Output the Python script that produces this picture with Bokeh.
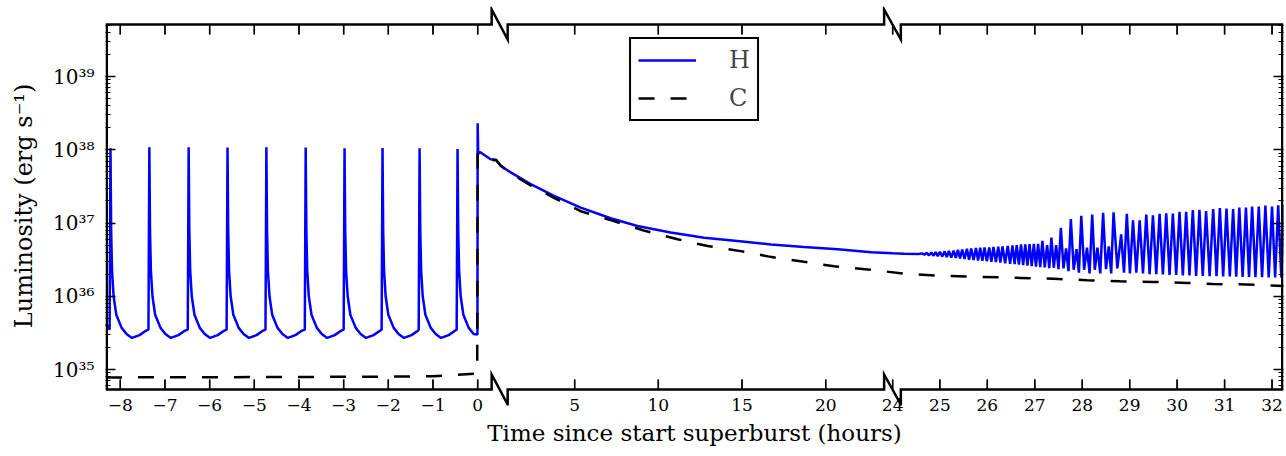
from bokeh.plotting import figure
from bokeh.models import (Range1d, FixedTicker, CustomJSTickFormatter, LinearAxis, LogAxis,
                          Arrow, ColumnDataSource)
from bokeh.embed import file_html
from bokeh.resources import INLINE

# ---------------- data (hours, erg/s) ----------------
tick_hours = [-8, -7, -6, -5, -4, -3, -2, -1, 0, 5, 10, 15, 20, 24, 25, 26, 27, 28, 29, 30, 31, 32]
tick_labels = ["−8", "−7", "−6", "−5", "−4", "−3", "−2", "−1", "0", "5", "10", "15", "20",
               "24", "25", "26", "27", "28", "29", "30", "31", "32"]

# H: recurring H/He bursts before the superburst
h_start_t = [-8.32]
h_start_L = [4.2e35]
burst_peak_t = [-8.22, -7.35, -6.47, -5.60, -4.73, -3.85, -2.98, -2.13, -1.30, -0.45]
burst_peak_L = [1.05e38, 1.08e38, 1.08e38, 1.07e38, 1.08e38, 1.07e38, 1.05e38, 1.06e38, 1.05e38, 1.02e38]
# burst profile read relative to each peak (offset in hours, luminosity)
burst_dt = [-0.02, 0.0, 0.015, 0.035, 0.07, 0.13, 0.25, 0.36, 0.48, 0.65, 0.80]
burst_shape_L = [3.5e35, None, 8.0e36, 2.2e36, 1.0e36, 5.6e35, 3.7e35, 3.05e35, 2.7e35, 2.95e35, 3.4e35]

# H: superburst onset and decay
sb_t = [-0.005, 0.0, 0.012, 0.05, 0.29]
sb_L = [3.0e35, 2.3e38, 8.8e37, 9.3e37, 7.4e37]
decay_t = [0.31, 0.6, 1.18, 2.37, 3.77, 5.36, 7.15, 8.75, 10.74, 12.74, 14.73, 16.73, 18.7,
           20.72, 22.72, 24.0, 24.25, 24.55]
decay_L = [7.3e37, 6.0e37, 4.9e37, 3.4e37, 2.34e37, 1.62e37, 1.16e37, 9.1e36, 7.4e36, 6.3e36,
           5.7e36, 5.1e36, 4.7e36, 4.37e36, 4.0e36, 3.85e36, 3.8e36, 3.77e36]

# H: oscillations after the superburst (peaks and troughs)
osc_peak_t = [24.63, 24.72, 24.82, 24.91, 25.00, 25.10, 25.19, 25.29, 25.38, 25.47,
              25.57, 25.66, 25.76, 25.85, 25.94, 26.04, 26.13, 26.23, 26.32, 26.43,
              26.53, 26.62, 26.71, 26.80, 26.89, 26.98,
              27.07, 27.16, 27.26, 27.35, 27.45, 27.55, 27.66, 27.76, 27.88, 27.98,
              28.10, 28.21, 28.32, 28.44, 28.56, 28.66, 28.82, 28.94,
              29.07, 29.21, 29.35, 29.49, 29.63, 29.77, 29.91,
              30.05, 30.19, 30.33, 30.47, 30.61, 30.76, 30.90,
              31.04, 31.18, 31.31, 31.45, 31.58, 31.72, 31.86,
              32.00, 32.13, 32.26]
osc_peak_L = [3.85e36, 3.9e36, 3.95e36, 4.0e36, 4.05e36, 4.1e36, 4.15e36, 4.2e36, 4.3e36, 4.35e36,
              4.45e36, 4.5e36, 4.55e36, 4.6e36, 4.62e36, 4.65e36, 4.7e36, 4.75e36, 4.8e36, 4.85e36,
              4.95e36, 5.0e36, 5.1e36, 5.1e36, 5.15e36, 5.2e36,
              5.2e36, 5.7e36, 5.0e36, 6.3e36, 5.0e36, 8.6e36, 4.5e36, 1.13e37, 4.4e36, 1.25e37,
              4.6e36, 1.30e37, 4.6e36, 1.38e37, 4.8e36, 1.40e37, 7.0e36, 1.33e37,
              1.09e37, 1.09e37, 1.30e37, 1.27e37, 1.33e37, 1.36e37, 1.35e37,
              1.42e37, 1.42e37, 1.50e37, 1.51e37, 1.46e37, 1.55e37, 1.60e37,
              1.58e37, 1.55e37, 1.63e37, 1.63e37, 1.68e37, 1.68e37, 1.73e37,
              1.68e37, 1.75e37, 1.77e37]
osc_trough_t = [24.675, 24.77, 24.865, 24.955, 25.05, 25.145, 25.24, 25.335, 25.425, 25.52,
                25.615, 25.71, 25.805, 25.895, 25.99, 26.085, 26.18, 26.275, 26.375, 26.48,
                26.575, 26.665, 26.755, 26.845, 26.935, 27.025, 27.115, 27.21, 27.305, 27.40,
                27.50, 27.605, 27.71, 27.82, 27.93, 28.04, 28.155, 28.265, 28.38, 28.50,
                28.61, 28.74, 28.88, 29.005, 29.14, 29.28, 29.42, 29.56, 29.70, 29.84,
                29.98, 30.12, 30.26, 30.40, 30.54, 30.685, 30.83, 30.97, 31.11, 31.245,
                31.38, 31.515, 31.65, 31.79, 31.93, 32.065, 32.195]
osc_trough_L = [3.68e36, 3.63e36, 3.58e36, 3.53e36, 3.48e36, 3.43e36, 3.38e36, 3.33e36, 3.28e36, 3.22e36,
                3.16e36, 3.12e36, 3.08e36, 3.04e36, 3.0e36, 2.96e36, 2.92e36, 2.88e36, 2.82e36, 2.78e36,
                2.74e36, 2.7e36, 2.66e36, 2.62e36, 2.58e36, 2.54e36, 2.5e36, 2.48e36, 2.42e36, 2.45e36,
                2.35e36, 2.4e36, 2.2e36, 2.3e36, 2.1e36, 2.3e36, 2.05e36, 2.3e36, 2.05e36, 2.35e36,
                2.05e36, 2.4e36, 2.1e36, 2.05e36, 2.1e36, 2.05e36, 2.0e36, 2.0e36, 1.98e36, 1.95e36,
                1.95e36, 1.92e36, 1.92e36, 1.9e36, 1.9e36, 1.88e36, 1.88e36, 1.86e36, 1.86e36, 1.85e36,
                1.84e36, 1.83e36, 1.82e36, 1.82e36, 1.8e36, 1.8e36, 1.8e36]

# C: carbon burning luminosity
c_t = [-8.32, -6.0, -4.0, -2.0, -1.0, -0.5, -0.01, 0.0, 0.05, 0.29, 0.31, 0.6, 1.18, 2.37, 3.77,
       5.36, 7.34, 9.13, 11.15, 12.95, 14.92, 16.7, 18.7, 20.5, 22.5, 24.25, 25.0, 26.7, 27.4,
       28.1, 28.8, 29.5, 30.2, 30.75, 31.45, 32.25]
c_L = [7.8e34, 7.85e34, 7.9e34, 8.0e34, 8.1e34, 8.4e34, 8.8e34, 8.9e37, 9.0e37, 7.3e37, 7.2e37,
       6.0e37, 4.75e37, 3.25e37, 2.2e37, 1.45e37, 1.06e37, 7.9e36, 6.0e36, 4.84e36, 4.13e36,
       3.45e36, 2.95e36, 2.57e36, 2.32e36, 2.04e36, 1.9e36, 1.78e36, 1.73e36, 1.66e36, 1.6e36,
       1.57e36, 1.52e36, 1.47e36, 1.45e36, 1.38e36]

# ---------------- broken time axis: three linear pieces ----------------
SEG1_END = 0.3
SEG2_END = 24.0


def hours_to_u(t):
    if t <= SEG1_END:
        return 477.0 + 44.65 * t
    if t <= SEG2_END:
        return 490.3 + 16.73 * t
    return 891.6 + 47.43 * (t - 24.0)


# assemble H series
h_t = list(h_start_t)
h_L = list(h_start_L)
for tp, Lp in zip(burst_peak_t, burst_peak_L):
    for dt, L in zip(burst_dt, burst_shape_L):
        t = tp + dt
        if t >= sb_t[0]:
            continue
        h_t.append(t)
        h_L.append(Lp if L is None else L)
h_t += sb_t + decay_t
h_L += sb_L + decay_L
osc = sorted(zip(osc_peak_t + osc_trough_t, osc_peak_L + osc_trough_L))
h_t += [a for a, _ in osc]
h_L += [b for _, b in osc]

h_u = [hours_to_u(t) for t in h_t]
c_u = [hours_to_u(t) for t in c_t]
tick_u = [hours_to_u(t) for t in tick_hours]

# ---------------- figure ----------------
W, H = 1286, 456
BOX_TOP, BOX_BOTTOM = 24, 389          # visible axes box (px)
EXT_T, EXT_B = 18, 16                  # frame extends beyond the box for the break marks
B_LEFT, B_RIGHT = 105, 3
B_TOP, B_BOTTOM = BOX_TOP - EXT_T, H - BOX_BOTTOM - EXT_B
LOG_LO, LOG_HI = 34.727, 39.71
DPP = (LOG_HI - LOG_LO) / (BOX_BOTTOM - BOX_TOP)   # decades per pixel
U_LO, U_HI = 105.0, 1282.5
FONT = "DejaVu Serif"

p = figure(width=W, height=H, output_backend="svg", toolbar_location=None,
           x_range=Range1d(U_LO, U_HI),
           y_range=Range1d(10 ** (LOG_LO - EXT_B * DPP), 10 ** (LOG_HI + EXT_T * DPP)),
           y_axis_type="log", min_border_left=B_LEFT, min_border_right=B_RIGHT,
           min_border_top=B_TOP, min_border_bottom=B_BOTTOM)
p.outline_line_color = None
p.xgrid.visible = False
p.ygrid.visible = False
p.background_fill_color = "white"
p.border_fill_color = "white"

xt = FixedTicker(ticks=tick_u, minor_ticks=[])
yt = FixedTicker(ticks=[10.0 ** n for n in range(35, 40)],
                 minor_ticks=[k * 10.0 ** n for n in range(34, 40) for k in range(2, 10)
                              if 10 ** LOG_LO < k * 10.0 ** n < 10 ** LOG_HI])

xfmt = CustomJSTickFormatter(args=dict(pos=tick_u, lab=tick_labels), code="""
for (let i = 0; i < pos.length; i++) { if (Math.abs(pos[i] - tick) < 1e-6) return lab[i]; }
return "";
""")
yfmt = CustomJSTickFormatter(code="""
const sup = {"0":"⁰","1":"¹","2":"²","3":"³","4":"⁴","5":"⁵","6":"⁶","7":"⁷","8":"⁸","9":"⁹","-":"⁻"};
const n = Math.round(Math.log10(tick));
return "10" + String(n).split("").map(c => sup[c]).join("");
""")
blank = CustomJSTickFormatter(code="return '';")


def style_axis(ax, horizontal):
    ax.axis_line_color = None
    if horizontal:
        ax.major_tick_in = 0
        ax.major_tick_out = 0
        ax.major_tick_line_color = None
    else:
        ax.major_tick_in = 10
        ax.major_tick_out = 0
        ax.major_tick_line_width = 1.3
    ax.minor_tick_in = 5
    ax.minor_tick_out = 0
    ax.minor_tick_line_width = 1.1
    ax.major_label_text_font = FONT
    ax.major_label_text_color = "black"
    ax.axis_label_text_font = FONT
    ax.axis_label_text_font_size = "23px"
    ax.axis_label_text_font_style = "normal"
    ax.axis_label_text_color = "black"


bx = p.xaxis[0]
bx.ticker = xt
bx.formatter = xfmt
style_axis(bx, True)
bx.major_label_text_font_size = "17px"
bx.major_label_standoff = 9 - EXT_B
bx.axis_label = "Time since start superburst (hours)"
bx.axis_label_standoff = 6

ly = p.yaxis[0]
ly.ticker = yt
ly.formatter = yfmt
style_axis(ly, False)
ly.major_label_text_font_size = "20px"
ly.major_label_standoff = 11
ly.axis_label = "Luminosity (erg s⁻¹)"
ly.axis_label_text_font_size = "24px"
ly.axis_label_standoff = 12

tx = LinearAxis(ticker=xt, formatter=blank)
style_axis(tx, True)
tx.major_label_standoff = 0
tx.major_label_text_font_size = "0px"
p.add_layout(tx, "above")

ry = LogAxis(ticker=yt, formatter=blank)
style_axis(ry, False)
ry.major_label_standoff = 0
ry.major_label_text_font_size = "0px"
p.add_layout(ry, "right")

p.line(h_u, h_L, line_color="#0000ff", line_width=2.5, legend_label="H")
p.line(c_u, c_L, line_color="black", line_width=2.5, line_dash="16 16", legend_label="C")

# inward ticks of the time axis on the visible box (top and bottom)
TICK_LEN = 10 * DPP
n_t = len(tick_u)
tick_left = [u - 0.7 for u in tick_u]
tick_right = [u + 0.7 for u in tick_u]
p.quad(left=tick_left, right=tick_right,
       bottom=[10 ** (LOG_HI - TICK_LEN)] * n_t, top=[10 ** LOG_HI] * n_t,
       fill_color="black", line_color=None)
p.quad(left=tick_left, right=tick_right,
       bottom=[10 ** LOG_LO] * n_t, top=[10 ** (LOG_LO + TICK_LEN)] * n_t,
       fill_color="black", line_color=None)
tick_src = ColumnDataSource(dict(
    x0=list(tick_u) + list(tick_u),
    y0=[10 ** LOG_HI] * n_t + [10 ** LOG_LO] * n_t,
    y1=[10 ** (LOG_HI - TICK_LEN)] * n_t + [10 ** (LOG_LO + TICK_LEN)] * n_t))
p.add_layout(Arrow(end=None, x_start="x0", y_start="y0", x_end="x0", y_end="y1",
                   source=tick_src, line_color="black", line_width=1.4, level="overlay"))

# axes box with break marks (drawn as lines inside the enlarged frame)
off = 15.0 * DPP
breaks = [(491.0, 507.0), (883.3, 900.0)]
for e in (LOG_HI, LOG_LO):
    bxs, bys = [U_LO], [10 ** e]
    for xl, xr in breaks:
        bxs += [xl, xl, xr, xr]
        bys += [10 ** e, 10 ** (e + off), 10 ** (e - off), 10 ** e]
    bxs.append(U_HI)
    bys.append(10 ** e)
    p.line(bxs, bys, line_color="black", line_width=2.5, line_join="miter")
for u_side in (U_LO + 1.25, U_HI - 1.25):
    p.line([u_side, u_side], [10 ** LOG_LO, 10 ** LOG_HI], line_color="black", line_width=2.5)

lg = p.legend[0]
lg.location = "top_center"
lg.margin = 37 - B_TOP
lg.padding = 7
lg.spacing = 10
lg.glyph_width = 58
lg.glyph_height = 20
lg.label_height = 20
lg.label_width = 20
lg.label_standoff = 33
lg.label_text_font = FONT
lg.label_text_font_size = "24px"
lg.border_line_color = "black"
lg.border_line_alpha = 1.0
lg.border_line_width = 2
lg.background_fill_alpha = 1.0

open("out.html", "w").write(file_html(p, INLINE))
